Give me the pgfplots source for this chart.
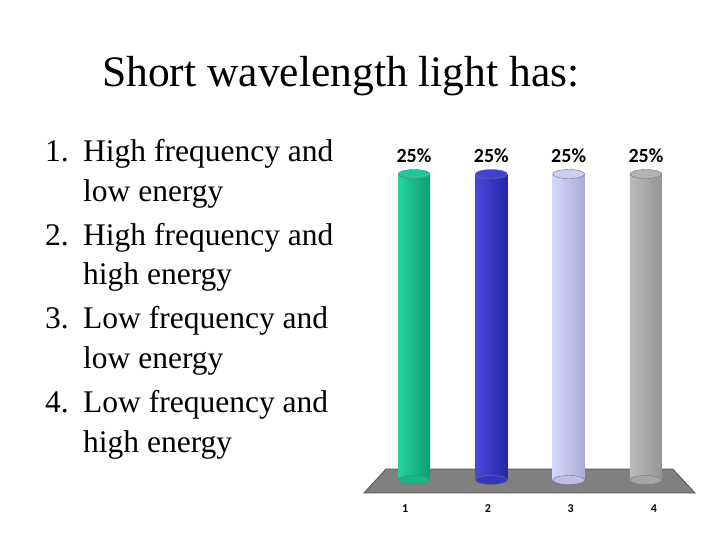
\documentclass[border=0pt]{standalone}
\usepackage{pgfplots}
\pgfplotsset{compat=1.18}
\usepackage{fontspec}
\setmainfont{Liberation Serif}
\newfontfamily\chartfont{Carlito}

\definecolor{gL}{RGB}{36,210,160}
\definecolor{gD}{RGB}{14,158,116}
\definecolor{bL}{RGB}{72,72,222}
\definecolor{bD}{RGB}{38,38,166}
\definecolor{lL}{RGB}{214,214,255}
\definecolor{lD}{RGB}{170,170,212}
\definecolor{aL}{RGB}{186,186,186}
\definecolor{aD}{RGB}{150,150,150}
\definecolor{floor}{RGB}{128,128,128}

\pgfdeclareplotmark{cap}{%
  \pgfpathellipse{\pgfpointorigin}{\pgfpoint{16pt}{0pt}}{\pgfpoint{0pt}{4.5pt}}%
  \pgfusepathqfillstroke}

\newcommand{\listfont}{\fontsize{31.5}{38}\selectfont}

\begin{document}
\begin{tikzpicture}[x=1pt,y=1pt]
\path (0,0) rectangle (720,540);

% title
\node[anchor=base west, inner sep=0, font=\fontsize{43.5}{52}\selectfont] at (102,453.3) {Short wavelength light has:};

% answer list
\begin{scope}[every node/.style={anchor=base west, inner sep=0, font=\listfont}]
\node at (45,378) {1.};   \node at (83,378) {High frequency and};
                          \node at (83,338.5) {low energy};
\node at (45,294.5) {2.}; \node at (83,294.5) {High frequency and};
                          \node at (83,255) {high energy};
\node at (45,211) {3.};   \node at (83,211) {Low frequency and};
                          \node at (83,171.5) {low energy};
\node at (45,127) {4.};   \node at (83,127) {Low frequency and};
                          \node at (83,87.5) {high energy};
\end{scope}

\begin{axis}[
  at={(364pt,47pt)}, anchor=south west,
  scale only axis, width=331pt, height=353pt,
  xmin=0.353, xmax=4.634, ymin=-1.06, ymax=27.78,
  clip=false,
  axis line style={draw=none},
  major tick length=0pt,
  ytick=\empty,
  xtick={0.884,1.957,3.026,4.104},
  xticklabels={1,2,3,4},
  xticklabel style={font=\chartfont\bfseries\fontsize{12}{14}\selectfont, yshift=-8pt},
  /pgf/number format/assume math mode=true,
  every node near coord/.append style={font=\chartfont\bfseries\fontsize{20}{24}\selectfont, anchor=base, yshift=12pt},
]
% floor
\fill[floor, draw=black!70, line width=0.8pt]
  (axis cs:0.353,-1.06) -- (axis cs:4.634,-1.06) -- (axis cs:4.345,0.9) -- (axis cs:0.638,0.9) -- cycle;

% bottom caps
\addplot[only marks, mark=cap, mark options={fill=gL!45!gD, draw=black!55, line width=0.4pt}] coordinates {(1,0)};
\addplot[only marks, mark=cap, mark options={fill=bL!45!bD, draw=black!55, line width=0.4pt}] coordinates {(2,0)};
\addplot[only marks, mark=cap, mark options={fill=lL!45!lD, draw=black!55, line width=0.4pt}] coordinates {(3,0)};
\addplot[only marks, mark=cap, mark options={fill=aL!45!aD, draw=black!55, line width=0.4pt}] coordinates {(4,0)};

% bars
\addplot[ybar, bar width=32pt, bar shift=0pt, draw=none, left color=gL, right color=gD,
  nodes near coords={\pgfmathprintnumber{\pgfplotspointmeta}\%}] coordinates {(1,25)};
\addplot[ybar, bar width=32pt, bar shift=0pt, draw=none, left color=bL, right color=bD,
  nodes near coords={\pgfmathprintnumber{\pgfplotspointmeta}\%}] coordinates {(2,25)};
\addplot[ybar, bar width=32pt, bar shift=0pt, draw=none, left color=lL, right color=lD,
  nodes near coords={\pgfmathprintnumber{\pgfplotspointmeta}\%}] coordinates {(3,25)};
\addplot[ybar, bar width=32pt, bar shift=0pt, draw=none, left color=aL, right color=aD,
  nodes near coords={\pgfmathprintnumber{\pgfplotspointmeta}\%}] coordinates {(4,25)};

% top caps
\addplot[only marks, mark=cap, mark options={fill=gL!80!gD, draw=black!55, line width=0.4pt}] coordinates {(1,25)};
\addplot[only marks, mark=cap, mark options={fill=bL!80!bD, draw=black!55, line width=0.4pt}] coordinates {(2,25)};
\addplot[only marks, mark=cap, mark options={fill=lL!80!lD, draw=black!55, line width=0.4pt}] coordinates {(3,25)};
\addplot[only marks, mark=cap, mark options={fill=aL!80!aD, draw=black!55, line width=0.4pt}] coordinates {(4,25)};
\end{axis}
\end{tikzpicture}
\end{document}
